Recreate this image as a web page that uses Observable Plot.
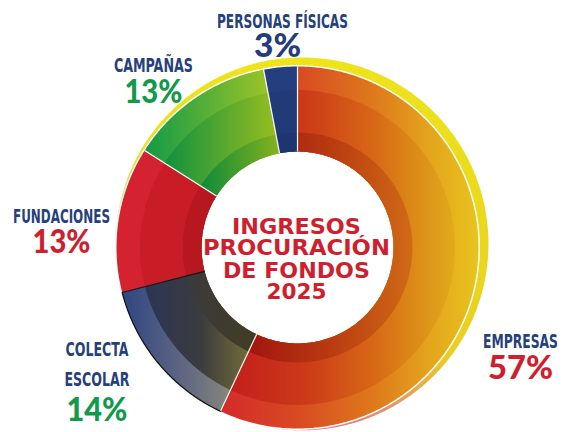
<!DOCTYPE html>
<html><head><meta charset="utf-8">
<script src="https://cdn.jsdelivr.net/npm/d3@7"></script>
<script src="https://cdn.jsdelivr.net/npm/@observablehq/plot@0.6"></script>
<style>html,body{margin:0;padding:0;background:#fff;} #chart svg{display:block;}</style>
</head><body><div id="chart"></div>
<script>
// ---- data ----
const categories = ["Empresas", "Colecta escolar", "Fundaciones", "Campañas", "Personas físicas"];
const labels = ["EMPRESAS", "COLECTA\nESCOLAR", "FUNDACIONES", "CAMPAÑAS", "PERSONAS FÍSICAS"];
const values = [57, 14, 13, 13, 3];
const titleLines = ["INGRESOS", "PROCURACIÓN", "DE FONDOS", "2025"];

// ---- layout (data units: 1 = outer radius) ----
const W = 563, H = 432, CX = 297, CY = 247, K = 181;
const R_IN = 0.53, B1 = 0.635, B2 = 0.87, R_OUT = 1;
const labelPos = {
  "Empresas": {x: 1.232, name: -0.558, pctX: 1.232, pct: -0.724},
  "Colecta escolar": {x: -1.108, name: -0.597, pctX: -1.108, pct: -0.956},
  "Fundaciones": {x: -1.304, name: 0.133, pctX: -1.304, pct: -0.033},
  "Campañas": {x: -0.796, name: 0.967, pctX: -0.796, pct: 0.801},
  "Personas físicas": {x: -0.083, name: 1.215, pctX: -0.110, pct: 1.050}
};
const lineStep = 0.166;
const titleX = -0.006, titleYs = [0.077, -0.044, -0.166, -0.282];

// ---- styles ----
const NAVY = "#263f7e", RED = "#cf1f2e", GREEN = "#12994a";
const pctColor = {"Empresas": RED, "Colecta escolar": GREEN, "Fundaciones": RED, "Campañas": GREEN, "Personas físicas": "#243c7b"};
const bandStops = { // [inner, middle, outer]
  "Empresas": [
    [[0,"#a2150f"],[0.5,"#b93b10"],[1,"#d06a16"]],
    [[0,"#c41e1c"],[0.35,"#cc3c18"],[0.65,"#d86a16"],[0.85,"#dc9018"],[1,"#dfac1a"]],
    [[0,"#d42a2c"],[0.3,"#d84a22"],[0.6,"#df7a1c"],[0.8,"#e4a21c"],[1,"#e8c41e"]]
  ],
  "Colecta escolar": [
    [[0,"#3a3a3d"],[1,"#413d22"]],
    [[0,"#2c3556"],[0.5,"#3b3c3e"],[1,"#7a7438"]],
    [[0,"#2f4682"],[0.5,"#646a82"],[1,"#9e9a76"]]
  ],
  "Fundaciones": [
    [[0,"#b7181f"],[1,"#b7181f"]],
    [[0,"#c81c26"],[1,"#c81c26"]],
    [[0,"#d52231"],[1,"#d52231"]]
  ],
  "Campañas": [
    [[0,"#0e8a3a"],[1,"#86b21c"]],
    [[0,"#11913f"],[1,"#9abe1f"]],
    [[0,"#129a48"],[1,"#a9c823"]]
  ],
  "Personas físicas": [
    [[0,"#1f3571"],[1,"#1f3571"]],
    [[0,"#223a77"],[1,"#223a77"]],
    [[0,"#253f7e"],[1,"#253f7e"]]
  ]
};
const textWidths = {"PERSONAS FÍSICAS":131,"CAMPAÑAS":79,"FUNDACIONES":97,"COLECTA":63,"ESCOLAR":65,"EMPRESAS":75,
  "3%":47,"13%":58,"14%":61,"57%":65,"INGRESOS":129,"PROCURACIÓN":187,"DE FONDOS":147,"2025":60};

// ---- geometry from data ----
const rows = categories.map((c, i) => ({key: c, label: labels[i], value: values[i], idx: i}));
const arcs = d3.pie().sort(null).value(d => d.value)(rows);
const STEP = Math.PI / 360;
function arcPoints(a0, a1, r) {
  const n = Math.max(2, Math.ceil((a1 - a0) / STEP)), pts = [];
  for (let i = 0; i <= n; i++) { const a = a0 + (a1 - a0) * i / n; pts.push([r * Math.sin(a), r * Math.cos(a)]); }
  return pts;
}
// each band drawn from the hole outward (outer first) so no seams show
const bandOuter = [B1, B2, R_OUT];
const bandPts = [];
const gradients = [];
arcs.forEach(a => {
  [2, 1, 0].forEach(b => {
    const id = `g${a.data.idx}_${b}`;
    gradients.push({id, stops: bandStops[a.data.key][b]});
    const outer = arcPoints(a.startAngle, a.endAngle, bandOuter[b]);
    const inner = arcPoints(a.startAngle, a.endAngle, R_IN).reverse();
    [...outer, ...inner].forEach(([x, y]) => bandPts.push({x, y, id, fill: `url(#${id})`}));
  });
});
// segment boundaries
const boundaries = arcs.map(a => ({
  x1: R_IN * Math.sin(a.startAngle), y1: R_IN * Math.cos(a.startAngle),
  x2: R_OUT * Math.sin(a.startAngle), y2: R_OUT * Math.cos(a.startAngle),
  color: a.data.key === "Fundaciones" ? "#151515" : "#ffffff"
}));
const colArc = arcs.find(a => a.data.key === "Colecta escolar");
const colectaOutline = arcPoints(colArc.startAngle, colArc.endAngle, R_OUT).map(([x, y]) => ({x, y}));
// decorative rim
const rim = arcPoints(0, 2 * Math.PI, 1.03).map(([x, y]) => ({x: x + 0.025, y: y + 0.02}));
const gap = arcPoints(0, 2 * Math.PI, 1.008).map(([x, y]) => ({x, y}));

// labels
const nameRows = [], pctRows = [];
rows.forEach(r => {
  const p = labelPos[r.key];
  r.label.split("\n").forEach((t, i) => nameRows.push({x: p.x, y: p.name - i * lineStep, text: t}));
  pctRows.push({x: p.pctX, y: p.pct, text: r.value + "%", color: pctColor[r.key]});
});
const titleRows = titleLines.map((t, i) => ({x: titleX, y: titleYs[i], text: t}));

const plot = Plot.plot({
  width: W, height: H, margin: 0,
  x: {domain: [-CX / K, (W - CX) / K], axis: null},
  y: {domain: [-(H - CY) / K, CY / K], axis: null},
  color: {type: "identity"},
  marks: [
    Plot.line(rim, {x: "x", y: "y", fill: "url(#rimGrad)", stroke: "none"}),
    Plot.line(gap, {x: "x", y: "y", fill: "#ffffff", stroke: "none"}),
    Plot.line(bandPts, {x: "x", y: "y", z: "id", fill: "fill", stroke: "none"}),
    Plot.link(boundaries, {x1: "x1", y1: "y1", x2: "x2", y2: "y2", stroke: "color", strokeWidth: 1.2}),
    Plot.line(colectaOutline, {x: "x", y: "y", stroke: "#151515", strokeWidth: 1.3}),
    Plot.text(nameRows, {x: "x", y: "y", text: "text", fill: NAVY, fontSize: 20, fontWeight: 700,
      fontFamily: "'DejaVu Sans Condensed','DejaVu Sans',sans-serif", textAnchor: "middle", lineAnchor: "bottom"}),
    Plot.text(pctRows, {x: "x", y: "y", text: "text", fill: "color", fontSize: 32, fontWeight: 900,
      fontFamily: "Lato,'Open Sans',sans-serif", textAnchor: "middle", lineAnchor: "bottom"}),
    Plot.text(titleRows, {x: "x", y: "y", text: "text", fill: RED, fontSize: 20.5, fontWeight: 700,
      fontFamily: "'DejaVu Sans',sans-serif", textAnchor: "middle", lineAnchor: "bottom"})
  ]
});

const svg = d3.select(plot);
const defs = svg.insert("defs", ":first-child");
gradients.forEach(g => {
  const lg = defs.append("linearGradient").attr("id", g.id).attr("x1", 0).attr("x2", 1).attr("y1", 0).attr("y2", 0);
  g.stops.forEach(([o, c]) => lg.append("stop").attr("offset", o).attr("stop-color", c));
});
const rg = defs.append("linearGradient").attr("id", "rimGrad").attr("x1", 0).attr("x2", 0).attr("y1", 0).attr("y2", 1);
[[0, "#ede41b"], [0.8, "#e9cf1e"], [1, "#e07a90"]].forEach(([o, c]) => rg.append("stop").attr("offset", o).attr("stop-color", c));
svg.selectAll("text").each(function () {
  const t = this.textContent;
  if (textWidths[t]) d3.select(this).attr("textLength", textWidths[t]).attr("lengthAdjust", "spacingAndGlyphs");
});
document.getElementById("chart").appendChild(plot);
</script>
</body></html>
